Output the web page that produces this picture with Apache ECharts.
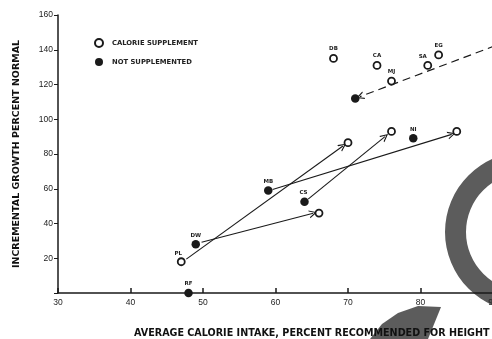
<!DOCTYPE html>
<html><head><meta charset="utf-8">
<script src="https://cdn.jsdelivr.net/npm/echarts@6/dist/echarts.min.js"></script>
<style>html,body{margin:0;padding:0;background:#fff}#c{width:492px;height:339px}</style>
</head><body><div id="c"></div>
<script>
// Data
var xTicks = [30, 40, 50, 60, 70, 80, 90, 100];
var yTicks = [0, 20, 40, 60, 80, 100, 120, 140, 160];

var suppNames = ['PL', '', '', '', '', 'DB', 'CA', 'MJ', 'SA', 'EG'];
var suppX     = [47, 66, 70, 76, 85, 68, 74, 76, 81, 82.5];
var suppY     = [18, 46, 86.5, 93, 93, 135, 131, 122, 131, 137];

var notNames = ['RF', 'DW', 'MB', 'CS', 'NI', ''];
var notX     = [48, 49, 59, 64, 79, 71];
var notY     = [0, 28, 59, 52.5, 89, 112];

// solid arrows: start -> arrow tip
var arrowFrom = [[47.7, 19.5], [49.8, 29.2], [59.6, 59.6], [64.5, 54]];
var arrowTo   = [[69.3, 84.6], [65.2, 45.9], [84.3, 91.3], [75.1, 90.0]];
// dashed arrow
var dashFrom = [[92, 145]];
var dashTo   = [[71.65, 113]];

var labelOffsets = { SA: [-5, 1], PL: [-3, 1], CS: [-1, 0] };

function pts(names, xs, ys) {
  return xs.map(function (x, i) {
    var o = { name: names[i], value: [x, ys[i]] };
    if (labelOffsets[names[i]]) o.label = { offset: labelOffsets[names[i]] };
    return o;
  });
}
function segs(a, b) {
  return a.map(function (p, i) { return { coords: [p, b[i]] }; });
}

var ink = '#1a1a1a';
var chevron = 'path://M0,10 L5,0 L10,10 L8.4,10 L5,3 L1.6,10 Z';
var ptLabel = {
  show: true, position: 'top', distance: 2,
  formatter: function (p) { return p.name; },
  fontSize: 5.5, fontWeight: 'bold', color: '#222', fontFamily: 'DejaVu Sans'
};

var chart = echarts.init(document.getElementById('c'), null, { renderer: 'canvas' });
chart.setOption({
  animation: false,
  backgroundColor: '#fff',
  grid: { left: 58, top: 15, width: 507.5, height: 278, containLabel: false, outerBoundsMode: 'none' },
  legend: {
    orient: 'vertical', left: 89, top: 33, itemGap: 10,
    itemWidth: 8, itemHeight: 8,
    textStyle: { fontSize: 6.8, fontWeight: 'bold', color: '#222', fontFamily: 'DejaVu Sans', padding: [0, 0, 0, 4] },
    data: ['CALORIE SUPPLEMENT', 'NOT SUPPLEMENTED']
  },
  xAxis: {
    type: 'value', min: xTicks[0], max: xTicks[xTicks.length - 1], interval: 10,
    name: 'AVERAGE CALORIE INTAKE, PERCENT RECOMMENDED FOR HEIGHT',
    nameLocation: 'middle', nameGap: 35,
    nameTextStyle: { fontSize: 9.6, fontWeight: 'bold', color: '#111', fontFamily: 'DejaVu Sans' },
    axisLine: { show: true, lineStyle: { color: ink, width: 1.5 } },
    axisTick: { show: true, inside: true, length: 5, lineStyle: { color: ink, width: 1.5 } },
    axisLabel: { margin: 5, fontSize: 8.5, color: '#222', fontFamily: 'Liberation Sans' },
    splitLine: { show: false }
  },
  yAxis: {
    type: 'value', min: yTicks[0], max: yTicks[yTicks.length - 1], interval: 20,
    name: 'INCREMENTAL GROWTH PERCENT NORMAL',
    nameLocation: 'middle', nameGap: 36, nameRotate: 90,
    nameTextStyle: { fontSize: 9.5, fontWeight: 'bold', color: '#111', fontFamily: 'DejaVu Sans' },
    axisLine: { show: true, lineStyle: { color: ink, width: 1.5 } },
    axisTick: { show: true, length: 4, lineStyle: { color: ink, width: 1 } },
    axisLabel: {
      margin: 5, fontSize: 8.5, color: '#222', fontFamily: 'Liberation Sans',
      formatter: function (v) { return v === 0 ? '' : String(v); }
    },
    splitLine: { show: false }
  },
  series: [
    {
      type: 'lines', coordinateSystem: 'cartesian2d', z: 3,
      symbol: ['none', chevron], symbolSize: [7, 8],
      lineStyle: { color: ink, width: 1.1, opacity: 1 },
      data: segs(arrowFrom, arrowTo)
    },
    {
      type: 'lines', coordinateSystem: 'cartesian2d', z: 3,
      symbol: ['none', chevron], symbolSize: [7, 8],
      lineStyle: { color: ink, width: 1.2, type: [8, 5], opacity: 1 },
      data: segs(dashFrom, dashTo)
    },
    {
      name: 'CALORIE SUPPLEMENT', type: 'scatter', z: 4, clip: false,
      symbol: 'circle', symbolSize: 7,
      itemStyle: { color: '#fff', borderColor: ink, borderWidth: 1.8, opacity: 1 },
      label: ptLabel,
      data: pts(suppNames, suppX, suppY)
    },
    {
      name: 'NOT SUPPLEMENTED', type: 'scatter', z: 4, clip: false,
      symbol: 'circle', symbolSize: 8.5,
      itemStyle: { color: ink, opacity: 1 },
      label: ptLabel,
      data: pts(notNames, notX, notY)
    }
  ],
  graphic: {
    elements: [
      { type: 'ring', z: -10, shape: { cx: 525, cy: 232, r: 80, r0: 59 }, style: { fill: '#5c5c5c' } },
      { type: 'polygon', z: -10,
        shape: { points: [[370, 339], [382, 324], [398, 313], [418, 306], [441, 307], [428, 339]] },
        style: { fill: '#5c5c5c' } }
    ]
  }
});
</script>
</body></html>
